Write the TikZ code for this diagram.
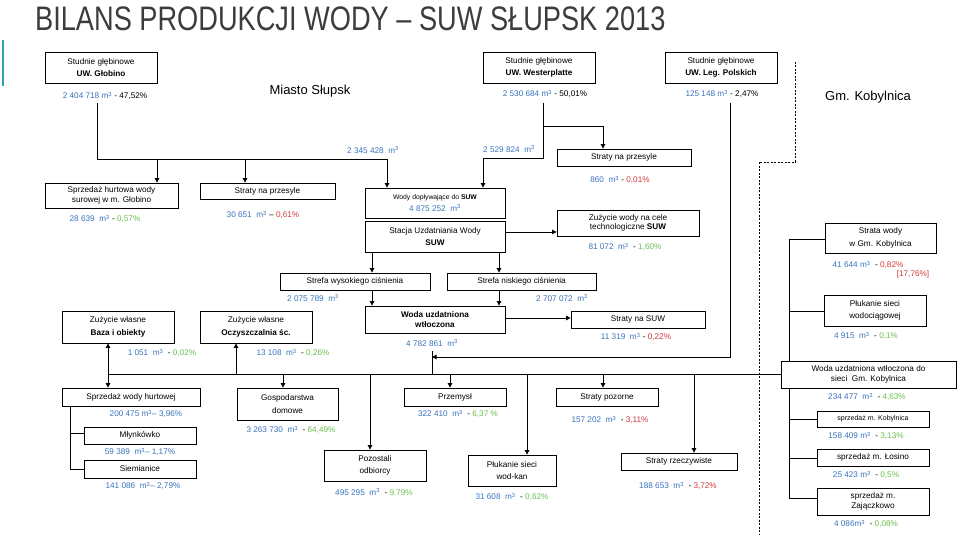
\documentclass[tikz,border=0pt]{standalone}
\usepackage{fontspec}
\setmainfont{Liberation Sans}
\usetikzlibrary{arrows.meta}
\definecolor{vb}{HTML}{3A74BE}
\definecolor{vg}{HTML}{6CBF4E}
\definecolor{vr}{HTML}{D43B3B}
\definecolor{ttl}{HTML}{3C3C3C}
\definecolor{teal}{HTML}{2FA3B5}
\newcommand\B[1]{\textcolor{vb}{#1}}
\newcommand\G[1]{\textcolor{vg}{#1}}
\newcommand\Rd[1]{\textcolor{vr}{#1}}
\newcommand\mm{m\textsuperscript{3}}
\newcommand\bx[6]{\node[box,minimum width={(#4-#2)*1pt},minimum height={(#5-#3)*1pt}] (#1) at ({(#2+#4)/2},{(#3+#5)/2}) {#6};}
\newcommand\val[4]{\node[val] (#1) at (#2,#3) {#4};}
\tikzset{
 box/.style={draw,line width=0.8pt,align=center,inner sep=1pt,font=\fontsize{8.2}{9.6}\selectfont},
 val/.style={inner sep=0pt,font=\fontsize{8.2}{9.6}\selectfont,align=center},
 ln/.style={line width=0.8pt},
 arr/.style={line width=0.8pt,-{Triangle[width=4.5pt,length=4.5pt]}},
 darr/.style={line width=0.8pt,{Triangle[width=4.5pt,length=4.5pt]}-{Triangle[width=4.5pt,length=4.5pt]}},
 dsh/.style={line width=0.8pt,dash pattern=on 2pt off 1.5pt},
}
\begin{document}
\begin{tikzpicture}[x=1pt,y=-1pt]
\useasboundingbox (0,0) rectangle (960,537);
\fill[white] (0,0) rectangle (960,537);
\fill[teal] (2,40) rectangle (4,86);
\node[anchor=west,inner sep=0pt,xscale=0.8,text=ttl,font=\fontsize{34}{36}\selectfont] (title) at (35,19) {BILANS PRODUKCJI WODY -- SUW SŁUPSK 2013};
\node[font=\fontsize{13}{15}\selectfont] (miasto) at (310,91) {Miasto Słupsk};
\node[font=\fontsize{13}{15}\selectfont] (gmk) at (868,97) {Gm. Kobylnica};
% sources
\bx{glo}{45}{52}{157}{83}{Studnie głębinowe\\[3pt]\textbf{UW. Głobino}}
\val{glov}{105}{96}{\B{2 404 718 \mm} - 47,52\%}
\bx{wes}{483}{52}{595}{83}{Studnie głębinowe\\[3pt]\textbf{UW. Westerplatte}}
\val{wesv}{545}{94}{\B{2 530 684 \mm} - 50,01\%}
\bx{leg}{665}{52}{777}{83}{Studnie głębinowe\\[3pt]\textbf{UW. Leg. Polskich}}
\val{legv}{722}{94}{\B{125 148 \mm} - 2,47\%}
% row 2
\bx{shw}{45}{183}{178}{208}{Sprzedaż hurtowa wody\\surowej w m. Głobino}
\val{shwv}{105}{219}{\B{28 639 \ \mm} - \G{0,57\%}}
\bx{spl}{200}{183}{335}{199}{Straty na przesyle}
\val{splv}{263}{215}{\B{30 651 \ \mm} -- \Rd{0,61\%}}
\bx{wdop}{365}{188}{505}{218}{{\fontsize{6.8}{8}\selectfont Wody dopływające do \textbf{SUW}}\\[2pt]\B{4 875 252 \ \mm}}
\bx{suw}{365}{221}{505}{252}{Stacja Uzdatniania Wody\\[3pt]\textbf{SUW}}
\bx{spr}{557}{149}{691}{166}{Straty na przesyle}
\val{sprv}{620}{180}{\B{860 \ \mm} - \Rd{0,01\%}}
\bx{ztech}{557}{210}{699}{236}{Zużycie wody na cele\\technologiczne \textbf{SUW}}
\val{ztechv}{625}{247}{\B{81 072 \ \mm} \ - \G{1,60\%}}
\val{l1}{373}{150}{\B{2 345 428 \ \mm}}
\val{l2}{509}{149}{\B{2 529 824 \ \mm}}
% strefy
\bx{sw}{280}{273}{430}{290}{Strefa wysokiego ciśnienia}
\val{swv}{313}{298}{\B{2 075 789 \ \mm}}
\bx{sn}{447}{273}{596}{290}{Strefa niskiego ciśnienia}
\val{snv}{562}{298}{\B{2 707 072 \ \mm}}
\bx{wu}{365}{306}{505}{333}{\textbf{Woda uzdatniona}\\\textbf{wtłoczona}}
\val{wuv}{432}{343}{\B{4 782 861 \ \mm}}
\bx{ssuw}{571}{311}{705}{328}{Straty na SUW}
\val{ssuwv}{636}{337}{\B{11 319 \ \mm} - \Rd{0,22\%}}
% zuzycie wlasne
\bx{zb}{62}{311}{174}{343}{Zużycie własne\\[3pt]\textbf{Baza i obiekty}}
\val{zbv}{162}{353}{\B{1 051 \ \mm} \ - \G{0,02\%}}
\bx{zo}{200}{311}{312}{343}{Zużycie własne\\[3pt]\textbf{Oczyszczalnia śc.}}
\val{zov}{293}{353}{\B{13 108 \ \mm} \ - \G{0,26\%}}
% bottom
\bx{swh}{62}{388}{200}{406}{Sprzedaż wody hurtowej}
\val{swhv}{146}{414}{\B{200 475 \mm -- 3,96\%}}
\bx{mly}{84}{427}{196}{444}{Młynkówko}
\val{mlyv}{140}{452}{\B{59 389 \ \mm -- 1,17\%}}
\bx{sie}{84}{460}{196}{478}{Siemianice}
\val{siev}{143}{486}{\B{141 086 \ \mm -- 2,79\%}}
\bx{gos}{237}{388}{338}{420}{Gospodarstwa\\[3pt]domowe}
\val{gosv}{291}{430}{\B{3 263 730 \ \mm} \ - \G{64,49\%}}
\bx{prz}{404}{388}{506}{406}{Przemysł}
\val{przv}{458}{414}{\B{322 410 \ \mm} \ - \G{6,37 \%}}
\bx{spo}{556}{388}{658}{406}{Straty pozorne}
\val{spov}{610}{420}{\B{157 202 \ \mm} \ - \Rd{3,11\%}}
\bx{poz}{324}{450}{426}{481}{Pozostali\\[3pt]odbiorcy}
\val{pozv}{374}{492}{\B{495 295 \ \mm} \ - \G{9.79\%}}
\bx{plk}{468}{455}{556}{486}{Płukanie sieci\\[3pt]wod-kan}
\val{plkv}{512}{497}{\B{31 608 \ \mm} \ - \G{0,62\%}}
\bx{srz}{621}{453}{737}{470}{Straty rzeczywiste}
\val{srzv}{678}{486}{\B{188 653 \ \mm} \ - \Rd{3,72\%}}
% Kobylnica
\bx{stk}{825}{223}{936}{253}{Strata wody\\[3pt]w Gm. Kobylnica}
\val{stkv}{868}{265}{\B{41 644 \mm} \ - \Rd{0,82\%}}
\val{stkv2}{913}{274}{\Rd{[17,76\%]}}
\bx{pkk}{824}{295}{926}{326}{Płukanie sieci\\[3pt]wodociągowej}
\val{pkkv}{866}{336}{\B{4 915 \ \mm} \ - \G{0,1\%}}
\bx{wk}{781}{361}{956}{388}{Woda uzdatniona wtłoczona do\\sieci \ Gm. Kobylnica}
\val{wkv}{867}{397}{\B{234 477 \ \mm} \ - \G{4,63\%}}
\bx{skb}{817}{411}{929}{427}{{\fontsize{7}{8}\selectfont sprzedaż m. Kobylnica}}
\val{skbv}{866}{436}{\B{158 409 \mm} \ - \G{3,13\%}}
\bx{slo}{817}{449}{929}{466}{sprzedaż m. Łosino}
\val{slov}{866}{475}{\B{25 423 \mm} \ - \G{0,5\%}}
\bx{sza}{817}{488}{929}{515}{sprzedaż m.\\Zajączkowo}
\val{szav}{866}{524}{\B{4 086\mm} \ - \G{0,08\%}}
% connectors: Globino
\draw[ln] (97,103) -- (97,159) -- (387,159);
\draw[arr] (157,159) -- (shw.north -| 157,0);
\draw[arr] (245,159) -- (spl.north -| 245,0);
\draw[arr] (387,159) -- (wdop.north -| 387,0);
% Westerplatte
\draw[ln] (543,103) -- (543,158) -- (483,158);
\draw[arr] (483,158) -- (wdop.north -| 483,0);
\draw[arr] (543,126) -- (603,126) -- (spr.north -| 603,0);
\draw[arr] (suw.east |- 0,232) -- (ztech.west |- 0,232);
\draw[arr] (372,252) -- (sw.north -| 372,0);
\draw[arr] (499,252) -- (sn.north -| 499,0);
\draw[arr] (372,290) -- (wu.north -| 372,0);
\draw[arr] (499,290) -- (wu.north -| 499,0);
\draw[arr] (wu.east |- 0,318) -- (ssuw.west |- 0,318);
% Leg Polskich
\draw[arr] (730,103) -- (730,357) -- (432,357);
\draw[ln] (432,351) -- (432,374);
% main distribution line
\draw[ln] (108,374) -- (wk.west |- 0,374);
\draw[darr] (zb.south -| 108,0) -- (swh.north -| 108,0);
\draw[arr] (236,374) -- (zo.south -| 236,0);
\draw[arr] (283,374) -- (gos.north -| 283,0);
\draw[arr] (370,374) -- (poz.north -| 370,0);
\draw[arr] (450,374) -- (prz.north -| 450,0);
\draw[arr] (527,374) -- (plk.north -| 527,0);
\draw[arr] (603,374) -- (spo.north -| 603,0);
\draw[arr] (694,374) -- (srz.north -| 694,0);
% hurtowa tree
\draw[ln] (70,406) -- (70,469) -- (sie.west |- 0,469);
\draw[ln] (70,433) -- (mly.west |- 0,433);
% Kobylnica tree
\draw[ln] (stk.west |- 0,239) -- (789,239) -- (789,361);
\draw[ln] (789,311) -- (pkk.west |- 0,311);
\draw[ln] (789,388) -- (789,498) -- (sza.west |- 0,498);
\draw[ln] (789,419) -- (skb.west |- 0,419);
\draw[ln] (789,458) -- (slo.west |- 0,458);
% dashed border
\draw[dsh] (795,62) -- (795,162) -- (759,162) -- (759,535);
\end{tikzpicture}
\end{document}
